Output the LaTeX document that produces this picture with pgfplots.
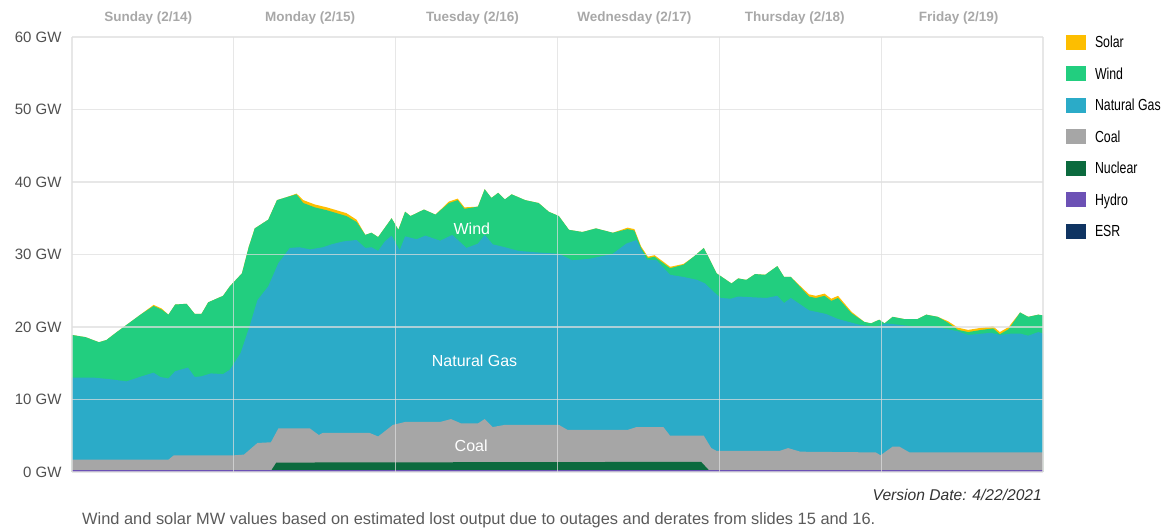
\documentclass[border=0pt]{standalone}
\usepackage{fontspec}
\setmainfont{Liberation Sans}
\usepackage{graphicx}
\usepackage{pgfplots}
\pgfplotsset{compat=1.18}
\definecolor{solar}{HTML}{FDBE00}
\definecolor{wind}{HTML}{22CE7F}
\definecolor{gas}{HTML}{2BABC8}
\definecolor{coal}{HTML}{A6A6A6}
\definecolor{nuclear}{HTML}{0B6A3E}
\definecolor{hydro}{HTML}{6C51B5}
\definecolor{esr}{HTML}{0F3462}
\definecolor{gridc}{HTML}{DEDEDE}
\definecolor{labelc}{HTML}{505050}
\definecolor{dayc}{HTML}{A8A8A8}
\definecolor{footc}{HTML}{5A5A5A}
\begin{document}
\begin{tikzpicture}
\path (0,0) rectangle (1170pt,529pt);
\begin{axis}[
  at={(72pt,57pt)}, anchor=south west,
  width=971pt, height=435pt, scale only axis,
  xmin=0, xmax=144, ymin=0, ymax=60,
  xtick={0,24,...,144}, xticklabels={},
  ytick={0,10,...,60},
  yticklabels={0 GW,10 GW,20 GW,30 GW,40 GW,50 GW,60 GW},
  yticklabel style={font=\fontsize{15}{18}\selectfont, text=labelc, xshift=-7pt},
  major tick length=0pt,
  grid=major,
  major grid style={gridc, line width=1.2pt, opacity=0.72},
  axis line style={draw=none},
  axis on top,
  clip=false,
  legend cell align=left,
  legend image code/.code={\fill[#1, draw=none] (0pt,-7.5pt) rectangle (20pt,7.5pt);},
  legend style={at={(1,1)}, anchor=north west, xshift=23pt, yshift=2pt,
    draw=none, fill=none, inner sep=0pt, outer sep=0pt,
    font=\fontsize{16}{16}\selectfont,
    nodes={inner sep=0pt, minimum height=15pt},
    row sep=16.5pt, column sep=9pt},
]
% Solar top (cumulative)
\addplot[fill=solar, draw=none] coordinates {
(0,18.9)(2,18.6)(4,17.9)(5.1,18.2)(6.5,19.2)(8.1,20.3)(10.3,21.8)(12.1,23.05)(13.3,22.55)(14.3,21.7)
(15.3,23.1)(17,23.2)(18.2,21.8)(19.2,21.8)(20.2,23.4)(22.4,24.3)(23.4,25.6)(25.2,27.4)(26.2,31.0)(27.1,33.6)
(29.1,34.8)(30.4,37.5)(31.8,37.9)(33.3,38.4)(34.3,37.5)(36,36.9)(37.8,36.5)(40.7,35.7)(42.2,34.8)(43.5,32.7)
(44.4,33.0)(45.4,32.4)(47.4,35.0)(48.4,33.4)(49.4,35.9)(50.2,35.3)(52.2,36.2)(53.9,35.5)(55.9,37.3)(57.2,37.7)
(58.2,36.5)(60.2,36.6)(61.2,39.0)(62.2,37.8)(63.2,38.5)(64.2,37.6)(65.2,38.3)(67.2,37.5)(69.2,37.1)(70.7,35.9)
(72.2,35.3)(73.7,33.4)(75.7,33.1)(77.7,33.6)(80.2,33.0)(82.4,33.7)(83.4,33.5)(84.4,31.1)(85.4,29.7)(86.4,29.9)
(88.7,28.3)(90.7,28.7)(92.2,29.7)(93.7,30.9)(95.6,27.4)(97.8,26.0)(98.8,26.7)(100.0,26.5)(101.3,27.3)(102.8,27.2)
(104.6,28.4)(105.6,26.9)(106.6,26.9)(109.3,24.5)(110.3,24.3)(111.6,24.6)(112.6,23.9)(113.6,24.3)(115.6,22.1)(117.5,20.7)
(118.5,20.5)(119.7,21.0)(120.5,20.5)(121.7,21.4)(123.4,21.1)(125.4,21.1)(126.7,21.7)(128.4,21.4)(129.9,20.8)(131.4,19.9)
(132.9,19.6)(134.9,19.9)(136.6,20.1)(137.6,19.3)(138.9,20.0)(140.6,22.0)(141.8,21.4)(143.3,21.7)(144,21.6)
} \closedcycle;
\addlegendentry{\scalebox{0.77}[1]{Solar}}
% Wind top (cumulative)
\addplot[fill=wind, draw=none] coordinates {
(0,18.9)(2,18.6)(4,17.9)(5.1,18.2)(6.5,19.2)(8.1,20.3)(10.3,21.8)(12.1,22.9)(13.3,22.4)(14.3,21.7)
(15.3,23.1)(17,23.2)(18.2,21.8)(19.2,21.8)(20.2,23.4)(22.4,24.3)(23.4,25.6)(25.2,27.4)(26.2,31.0)(27.1,33.6)
(29.1,34.8)(30.4,37.5)(31.8,37.9)(33.3,38.3)(34.3,37.1)(36,36.5)(37.8,36.1)(40.7,35.3)(42.2,34.5)(43.5,32.7)
(44.4,33.0)(45.4,32.4)(47.4,35.0)(48.4,33.4)(49.4,35.9)(50.2,35.3)(52.2,36.2)(53.9,35.5)(55.9,37.1)(57.2,37.5)
(58.2,36.3)(60.2,36.6)(61.2,39.0)(62.2,37.8)(63.2,38.5)(64.2,37.6)(65.2,38.3)(67.2,37.5)(69.2,37.1)(70.7,35.9)
(72.2,35.3)(73.7,33.4)(75.7,33.1)(77.7,33.6)(80.2,33.0)(82.4,33.5)(83.4,33.3)(84.4,30.9)(85.4,29.5)(86.4,29.7)
(88.7,28.1)(90.7,28.6)(92.2,29.7)(93.7,30.9)(95.6,27.4)(97.8,26.0)(98.8,26.7)(100.0,26.5)(101.3,27.3)(102.8,27.2)
(104.6,28.4)(105.6,26.9)(106.6,26.9)(109.3,24.2)(110.3,24.0)(111.6,24.3)(112.6,23.6)(113.6,24.0)(115.6,21.9)(117.5,20.7)
(118.5,20.5)(119.7,21.0)(120.5,20.5)(121.7,21.4)(123.4,21.1)(125.4,21.1)(126.7,21.7)(128.4,21.4)(129.9,20.6)(131.4,19.6)
(132.9,19.3)(134.9,19.6)(136.6,19.8)(137.6,19.0)(138.9,19.7)(140.6,22.0)(141.8,21.4)(143.3,21.7)(144,21.6)
} \closedcycle;
\addlegendentry{\scalebox{0.77}[1]{Wind}}
% Natural gas top (cumulative)
\addplot[fill=gas, draw=none] coordinates {
(0,13.0)(3.4,13.0)(5.6,12.8)(8.1,12.5)(10,13.1)(12.1,13.7)(13.1,13.1)(14.3,12.9)(15.3,13.9)(17.2,14.4)
(18.2,13.1)(19.2,13.2)(20.6,13.6)(22.4,13.5)(23.4,14.1)(25,16.4)(26.3,20.0)(27.5,23.7)(29.1,25.6)(30.6,28.8)
(32.3,30.9)(33.7,31.0)(35.3,30.7)(37.2,31.0)(38.5,31.4)(40.2,31.8)(42.2,32.0)(43.5,30.9)(44.4,31.0)(45.4,30.5)
(46.4,31.8)(47.4,32.6)(48.6,30.6)(49.4,32.5)(51.1,32.1)(52.4,32.6)(54.6,31.9)(56.4,32.7)(58.5,30.9)(60.2,31.5)
(61.2,32.7)(62.4,31.4)(64.2,31.0)(66.2,30.5)(68.7,30.3)(72.2,30.1)(74.2,29.2)(76.7,29.4)(80.2,30.1)(82.2,31.5)
(83.7,32.0)(85.2,29.3)(86.7,29.2)(88.7,27.2)(90.7,26.9)(92.7,26.5)(93.9,26.0)(95.1,24.9)(96.2,24.0)(97.7,23.9)
(98.8,24.2)(103,24.0)(104.6,24.3)(105.6,23.3)(106.6,24.0)(109.3,22.3)(111.8,21.8)(113.6,21.1)(116.8,20.3)(119.2,20.0)
(120.7,20.5)(122.7,20.3)(124.7,20.1)(127.7,20.1)(131.4,19.4)(132.9,18.9)(136.3,19.2)(137.6,18.9)(139.4,19.1)(140.6,19.1)
(141.8,18.8)(143.3,19.3)(144,19.1)
} \closedcycle;
\addlegendentry{\scalebox{0.77}[1]{Natural Gas}}
% Coal top (cumulative)
\addplot[fill=coal, draw=none] coordinates {
(0,1.7)(14.3,1.7)(15.1,2.3)(24,2.3)(25.5,2.4)(27.5,4.0)(29.5,4.1)(30.6,6.0)(35.3,6.0)(36.6,5.1)
(37.2,5.4)(44.1,5.4)(45.4,4.9)(47.6,6.5)(49.4,6.9)(54.6,6.9)(56.2,7.3)(57.7,6.7)(60.2,6.7)(61.2,7.3)
(62.4,6.2)(64.2,6.5)(72.2,6.5)(73.5,5.8)(82.4,5.8)(83.7,6.2)(87.7,6.2)(88.7,5.0)(93.7,5.0)(94.8,3.3)
(95.6,2.9)(104.9,2.9)(106.2,3.3)(108,2.8)(119.2,2.7)(119.9,2.3)(121.7,3.5)(122.7,3.5)(124.2,2.7)(144,2.7)
} \closedcycle;
\addlegendentry{\scalebox{0.77}[1]{Coal}}
% Nuclear top (cumulative)
\addplot[fill=nuclear, draw=none] coordinates {
(0,0)(29.4,0)(30.3,1.3)(60,1.35)(93.3,1.4)(94.7,0)(144,0)
} \closedcycle;
\addlegendentry{\scalebox{0.77}[1]{Nuclear}}
% Hydro
\addplot[fill=hydro, draw=none] coordinates {
(0,0.25)(144,0.25)
} \closedcycle;
\addlegendentry{\scalebox{0.77}[1]{Hydro}}
\addlegendimage{fill=esr, draw=none}
\addlegendentry{\scalebox{0.77}[1]{ESR}}
% labels in the chart
\node[text=white, font=\fontsize{16}{18}\selectfont] at (axis cs:59.3,33.5) {Wind};
\node[text=white, font=\fontsize{16}{18}\selectfont] at (axis cs:59.7,15.3) {Natural Gas};
\node[text=white, font=\fontsize{16}{18}\selectfont] at (axis cs:59.2,3.6) {Coal};
% day labels
\node[text=dayc, font=\bfseries\fontsize{13.5}{16}\selectfont] at (axis cs:11.3,62.6) {Sunday (2/14)};
\node[text=dayc, font=\bfseries\fontsize{13.5}{16}\selectfont] at (axis cs:35.3,62.6) {Monday (2/15)};
\node[text=dayc, font=\bfseries\fontsize{13.5}{16}\selectfont] at (axis cs:59.4,62.6) {Tuesday (2/16)};
\node[text=dayc, font=\bfseries\fontsize{13.5}{16}\selectfont] at (axis cs:83.4,62.6) {Wednesday (2/17)};
\node[text=dayc, font=\bfseries\fontsize{13.5}{16}\selectfont] at (axis cs:107.2,62.6) {Thursday (2/18)};
\node[text=dayc, font=\bfseries\fontsize{13.5}{16}\selectfont] at (axis cs:131.5,62.6) {Friday (2/19)};
\end{axis}
\node[anchor=base east, inner sep=0pt, text=black!80, font=\itshape\fontsize{15.6}{18}\selectfont] at (1042pt,28pt) {Version Date: 4/22/2021};
\node[anchor=base west, inner sep=0pt, text=footc, font=\fontsize{16.4}{19}\selectfont] at (82pt,4pt) {Wind and solar MW values based on estimated lost output due to outages and derates from slides 15 and 16.};
\end{tikzpicture}
\end{document}
